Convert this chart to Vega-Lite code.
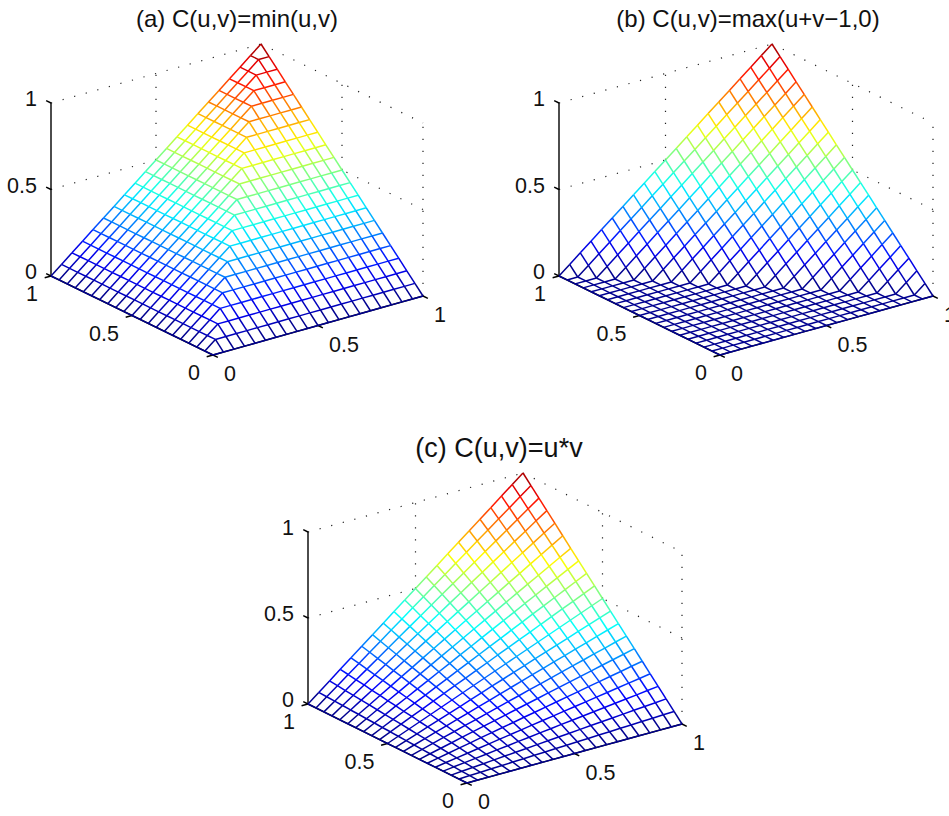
{"$schema":"https://vega.github.io/schema/vega-lite/v6.json","width":949,"height":816,"padding":0,"autosize":{"type":"none"},"background":"white","config":{"view":{"stroke":null}},
"params":[{"name":"P","value":{"a":{"x0":213,"xu":210,"xv":-162,"y0":355,"zs":173},"b":{"x0":720,"xu":213,"xv":-161,"y0":355,"zs":173},"c":{"x0":467,"xu":215,"xv":-159,"y0":783,"zs":172}}}],
"datasets":{
"frame":[{"k":"d","u":0,"v":1,"z":1,"u2":1,"v2":1,"z2":1},{"k":"d","u":1,"v":1,"z":1,"u2":1,"v2":0,"z2":1},{"k":"d","u":0,"v":1,"z":0.5,"u2":0.5,"v2":1,"z2":0.5},{"k":"d","u":1,"v":0,"z":0.5,"u2":1,"v2":0.5,"z2":0.5},{"k":"d","u":0.5,"v":1,"z":0.5,"u2":0.5,"v2":1,"z2":1},{"k":"d","u":1,"v":0.5,"z":0.5,"u2":1,"v2":0.5,"z2":1},{"k":"d","u":1,"v":0,"z":0,"u2":1,"v2":0,"z2":1},
{"k":"s","u":0,"v":1,"z":0,"u2":0,"v2":1,"z2":1},{"k":"s","u":0,"v":0,"z":0,"u2":1,"v2":0,"z2":0},{"k":"s","u":0,"v":0,"z":0,"u2":0,"v2":1,"z2":0},
{"k":"s","u":0,"v":1,"z":0,"u2":0,"v2":1.03,"z2":0},{"k":"s","u":0,"v":1,"z":0.5,"u2":0,"v2":1.03,"z2":0.5},{"k":"s","u":0,"v":1,"z":1,"u2":0,"v2":1.03,"z2":1},
{"k":"s","u":0,"v":0,"z":0,"u2":0,"v2":-0.03,"z2":0},{"k":"s","u":0.5,"v":0,"z":0,"u2":0.5,"v2":-0.03,"z2":0},{"k":"s","u":1,"v":0,"z":0,"u2":1,"v2":-0.03,"z2":0},
{"k":"s","u":0,"v":0,"z":0,"u2":-0.03,"v2":0,"z2":0},{"k":"s","u":0,"v":0.5,"z":0,"u2":-0.03,"v2":0.5,"z2":0},{"k":"s","u":0,"v":1,"z":0,"u2":-0.03,"v2":1,"z2":0}],
"labels":[{"ax":"z","t":"0","u":0,"v":1,"z":0},{"ax":"z","t":"0.5","u":0,"v":1,"z":0.5},{"ax":"z","t":"1","u":0,"v":1,"z":1},{"ax":"x","t":"0","u":0,"v":0,"z":0},{"ax":"x","t":"0.5","u":0.5,"v":0,"z":0},{"ax":"x","t":"1","u":1,"v":0,"z":0},{"ax":"y","t":"0","u":0,"v":0,"z":0},{"ax":"y","t":"0.5","u":0,"v":0.5,"z":0},{"ax":"y","t":"1","u":0,"v":1,"z":0}],
"titles":[{"p":"a","t":"(a) C(u,v)=min(u,v)","u":1,"v":1,"z":1},{"p":"b","t":"(b) C(u,v)=max(u+v−1,0)","u":1,"v":1,"z":1},{"p":"c","t":"(c) C(u,v)=u*v","u":1,"v":1,"z":1}],
"mesh":[
{"u":0,"v":0,"a":0,"b":0,"c":0},{"u":0,"v":0.05,"a":0,"b":0,"c":0},{"u":0,"v":0.1,"a":0,"b":0,"c":0},{"u":0,"v":0.15,"a":0,"b":0,"c":0},{"u":0,"v":0.2,"a":0,"b":0,"c":0},{"u":0,"v":0.25,"a":0,"b":0,"c":0},{"u":0,"v":0.3,"a":0,"b":0,"c":0},{"u":0,"v":0.35,"a":0,"b":0,"c":0},{"u":0,"v":0.4,"a":0,"b":0,"c":0},{"u":0,"v":0.45,"a":0,"b":0,"c":0},{"u":0,"v":0.5,"a":0,"b":0,"c":0},{"u":0,"v":0.55,"a":0,"b":0,"c":0},{"u":0,"v":0.6,"a":0,"b":0,"c":0},{"u":0,"v":0.65,"a":0,"b":0,"c":0},{"u":0,"v":0.7,"a":0,"b":0,"c":0},{"u":0,"v":0.75,"a":0,"b":0,"c":0},{"u":0,"v":0.8,"a":0,"b":0,"c":0},{"u":0,"v":0.85,"a":0,"b":0,"c":0},{"u":0,"v":0.9,"a":0,"b":0,"c":0},{"u":0,"v":0.95,"a":0,"b":0,"c":0},{"u":0,"v":1,"a":0,"b":0,"c":0},
{"u":0.05,"v":0,"a":0,"b":0,"c":0},{"u":0.05,"v":0.05,"a":0.05,"b":0,"c":0.003},{"u":0.05,"v":0.1,"a":0.05,"b":0,"c":0.005},{"u":0.05,"v":0.15,"a":0.05,"b":0,"c":0.008},{"u":0.05,"v":0.2,"a":0.05,"b":0,"c":0.01},{"u":0.05,"v":0.25,"a":0.05,"b":0,"c":0.013},{"u":0.05,"v":0.3,"a":0.05,"b":0,"c":0.015},{"u":0.05,"v":0.35,"a":0.05,"b":0,"c":0.018},{"u":0.05,"v":0.4,"a":0.05,"b":0,"c":0.02},{"u":0.05,"v":0.45,"a":0.05,"b":0,"c":0.023},{"u":0.05,"v":0.5,"a":0.05,"b":0,"c":0.025},{"u":0.05,"v":0.55,"a":0.05,"b":0,"c":0.028},{"u":0.05,"v":0.6,"a":0.05,"b":0,"c":0.03},{"u":0.05,"v":0.65,"a":0.05,"b":0,"c":0.033},{"u":0.05,"v":0.7,"a":0.05,"b":0,"c":0.035},{"u":0.05,"v":0.75,"a":0.05,"b":0,"c":0.038},{"u":0.05,"v":0.8,"a":0.05,"b":0,"c":0.04},{"u":0.05,"v":0.85,"a":0.05,"b":0,"c":0.043},{"u":0.05,"v":0.9,"a":0.05,"b":0,"c":0.045},{"u":0.05,"v":0.95,"a":0.05,"b":0,"c":0.048},{"u":0.05,"v":1,"a":0.05,"b":0.05,"c":0.05},
{"u":0.1,"v":0,"a":0,"b":0,"c":0},{"u":0.1,"v":0.05,"a":0.05,"b":0,"c":0.005},{"u":0.1,"v":0.1,"a":0.1,"b":0,"c":0.01},{"u":0.1,"v":0.15,"a":0.1,"b":0,"c":0.015},{"u":0.1,"v":0.2,"a":0.1,"b":0,"c":0.02},{"u":0.1,"v":0.25,"a":0.1,"b":0,"c":0.025},{"u":0.1,"v":0.3,"a":0.1,"b":0,"c":0.03},{"u":0.1,"v":0.35,"a":0.1,"b":0,"c":0.035},{"u":0.1,"v":0.4,"a":0.1,"b":0,"c":0.04},{"u":0.1,"v":0.45,"a":0.1,"b":0,"c":0.045},{"u":0.1,"v":0.5,"a":0.1,"b":0,"c":0.05},{"u":0.1,"v":0.55,"a":0.1,"b":0,"c":0.055},{"u":0.1,"v":0.6,"a":0.1,"b":0,"c":0.06},{"u":0.1,"v":0.65,"a":0.1,"b":0,"c":0.065},{"u":0.1,"v":0.7,"a":0.1,"b":0,"c":0.07},{"u":0.1,"v":0.75,"a":0.1,"b":0,"c":0.075},{"u":0.1,"v":0.8,"a":0.1,"b":0,"c":0.08},{"u":0.1,"v":0.85,"a":0.1,"b":0,"c":0.085},{"u":0.1,"v":0.9,"a":0.1,"b":0,"c":0.09},{"u":0.1,"v":0.95,"a":0.1,"b":0.05,"c":0.095},{"u":0.1,"v":1,"a":0.1,"b":0.1,"c":0.1},
{"u":0.15,"v":0,"a":0,"b":0,"c":0},{"u":0.15,"v":0.05,"a":0.05,"b":0,"c":0.008},{"u":0.15,"v":0.1,"a":0.1,"b":0,"c":0.015},{"u":0.15,"v":0.15,"a":0.15,"b":0,"c":0.023},{"u":0.15,"v":0.2,"a":0.15,"b":0,"c":0.03},{"u":0.15,"v":0.25,"a":0.15,"b":0,"c":0.038},{"u":0.15,"v":0.3,"a":0.15,"b":0,"c":0.045},{"u":0.15,"v":0.35,"a":0.15,"b":0,"c":0.053},{"u":0.15,"v":0.4,"a":0.15,"b":0,"c":0.06},{"u":0.15,"v":0.45,"a":0.15,"b":0,"c":0.068},{"u":0.15,"v":0.5,"a":0.15,"b":0,"c":0.075},{"u":0.15,"v":0.55,"a":0.15,"b":0,"c":0.083},{"u":0.15,"v":0.6,"a":0.15,"b":0,"c":0.09},{"u":0.15,"v":0.65,"a":0.15,"b":0,"c":0.098},{"u":0.15,"v":0.7,"a":0.15,"b":0,"c":0.105},{"u":0.15,"v":0.75,"a":0.15,"b":0,"c":0.113},{"u":0.15,"v":0.8,"a":0.15,"b":0,"c":0.12},{"u":0.15,"v":0.85,"a":0.15,"b":0,"c":0.128},{"u":0.15,"v":0.9,"a":0.15,"b":0.05,"c":0.135},{"u":0.15,"v":0.95,"a":0.15,"b":0.1,"c":0.143},{"u":0.15,"v":1,"a":0.15,"b":0.15,"c":0.15},
{"u":0.2,"v":0,"a":0,"b":0,"c":0},{"u":0.2,"v":0.05,"a":0.05,"b":0,"c":0.01},{"u":0.2,"v":0.1,"a":0.1,"b":0,"c":0.02},{"u":0.2,"v":0.15,"a":0.15,"b":0,"c":0.03},{"u":0.2,"v":0.2,"a":0.2,"b":0,"c":0.04},{"u":0.2,"v":0.25,"a":0.2,"b":0,"c":0.05},{"u":0.2,"v":0.3,"a":0.2,"b":0,"c":0.06},{"u":0.2,"v":0.35,"a":0.2,"b":0,"c":0.07},{"u":0.2,"v":0.4,"a":0.2,"b":0,"c":0.08},{"u":0.2,"v":0.45,"a":0.2,"b":0,"c":0.09},{"u":0.2,"v":0.5,"a":0.2,"b":0,"c":0.1},{"u":0.2,"v":0.55,"a":0.2,"b":0,"c":0.11},{"u":0.2,"v":0.6,"a":0.2,"b":0,"c":0.12},{"u":0.2,"v":0.65,"a":0.2,"b":0,"c":0.13},{"u":0.2,"v":0.7,"a":0.2,"b":0,"c":0.14},{"u":0.2,"v":0.75,"a":0.2,"b":0,"c":0.15},{"u":0.2,"v":0.8,"a":0.2,"b":0,"c":0.16},{"u":0.2,"v":0.85,"a":0.2,"b":0.05,"c":0.17},{"u":0.2,"v":0.9,"a":0.2,"b":0.1,"c":0.18},{"u":0.2,"v":0.95,"a":0.2,"b":0.15,"c":0.19},{"u":0.2,"v":1,"a":0.2,"b":0.2,"c":0.2},
{"u":0.25,"v":0,"a":0,"b":0,"c":0},{"u":0.25,"v":0.05,"a":0.05,"b":0,"c":0.013},{"u":0.25,"v":0.1,"a":0.1,"b":0,"c":0.025},{"u":0.25,"v":0.15,"a":0.15,"b":0,"c":0.038},{"u":0.25,"v":0.2,"a":0.2,"b":0,"c":0.05},{"u":0.25,"v":0.25,"a":0.25,"b":0,"c":0.063},{"u":0.25,"v":0.3,"a":0.25,"b":0,"c":0.075},{"u":0.25,"v":0.35,"a":0.25,"b":0,"c":0.088},{"u":0.25,"v":0.4,"a":0.25,"b":0,"c":0.1},{"u":0.25,"v":0.45,"a":0.25,"b":0,"c":0.113},{"u":0.25,"v":0.5,"a":0.25,"b":0,"c":0.125},{"u":0.25,"v":0.55,"a":0.25,"b":0,"c":0.138},{"u":0.25,"v":0.6,"a":0.25,"b":0,"c":0.15},{"u":0.25,"v":0.65,"a":0.25,"b":0,"c":0.163},{"u":0.25,"v":0.7,"a":0.25,"b":0,"c":0.175},{"u":0.25,"v":0.75,"a":0.25,"b":0,"c":0.188},{"u":0.25,"v":0.8,"a":0.25,"b":0.05,"c":0.2},{"u":0.25,"v":0.85,"a":0.25,"b":0.1,"c":0.213},{"u":0.25,"v":0.9,"a":0.25,"b":0.15,"c":0.225},{"u":0.25,"v":0.95,"a":0.25,"b":0.2,"c":0.238},{"u":0.25,"v":1,"a":0.25,"b":0.25,"c":0.25},
{"u":0.3,"v":0,"a":0,"b":0,"c":0},{"u":0.3,"v":0.05,"a":0.05,"b":0,"c":0.015},{"u":0.3,"v":0.1,"a":0.1,"b":0,"c":0.03},{"u":0.3,"v":0.15,"a":0.15,"b":0,"c":0.045},{"u":0.3,"v":0.2,"a":0.2,"b":0,"c":0.06},{"u":0.3,"v":0.25,"a":0.25,"b":0,"c":0.075},{"u":0.3,"v":0.3,"a":0.3,"b":0,"c":0.09},{"u":0.3,"v":0.35,"a":0.3,"b":0,"c":0.105},{"u":0.3,"v":0.4,"a":0.3,"b":0,"c":0.12},{"u":0.3,"v":0.45,"a":0.3,"b":0,"c":0.135},{"u":0.3,"v":0.5,"a":0.3,"b":0,"c":0.15},{"u":0.3,"v":0.55,"a":0.3,"b":0,"c":0.165},{"u":0.3,"v":0.6,"a":0.3,"b":0,"c":0.18},{"u":0.3,"v":0.65,"a":0.3,"b":0,"c":0.195},{"u":0.3,"v":0.7,"a":0.3,"b":0,"c":0.21},{"u":0.3,"v":0.75,"a":0.3,"b":0.05,"c":0.225},{"u":0.3,"v":0.8,"a":0.3,"b":0.1,"c":0.24},{"u":0.3,"v":0.85,"a":0.3,"b":0.15,"c":0.255},{"u":0.3,"v":0.9,"a":0.3,"b":0.2,"c":0.27},{"u":0.3,"v":0.95,"a":0.3,"b":0.25,"c":0.285},{"u":0.3,"v":1,"a":0.3,"b":0.3,"c":0.3},
{"u":0.35,"v":0,"a":0,"b":0,"c":0},{"u":0.35,"v":0.05,"a":0.05,"b":0,"c":0.018},{"u":0.35,"v":0.1,"a":0.1,"b":0,"c":0.035},{"u":0.35,"v":0.15,"a":0.15,"b":0,"c":0.053},{"u":0.35,"v":0.2,"a":0.2,"b":0,"c":0.07},{"u":0.35,"v":0.25,"a":0.25,"b":0,"c":0.088},{"u":0.35,"v":0.3,"a":0.3,"b":0,"c":0.105},{"u":0.35,"v":0.35,"a":0.35,"b":0,"c":0.123},{"u":0.35,"v":0.4,"a":0.35,"b":0,"c":0.14},{"u":0.35,"v":0.45,"a":0.35,"b":0,"c":0.158},{"u":0.35,"v":0.5,"a":0.35,"b":0,"c":0.175},{"u":0.35,"v":0.55,"a":0.35,"b":0,"c":0.193},{"u":0.35,"v":0.6,"a":0.35,"b":0,"c":0.21},{"u":0.35,"v":0.65,"a":0.35,"b":0,"c":0.228},{"u":0.35,"v":0.7,"a":0.35,"b":0.05,"c":0.245},{"u":0.35,"v":0.75,"a":0.35,"b":0.1,"c":0.263},{"u":0.35,"v":0.8,"a":0.35,"b":0.15,"c":0.28},{"u":0.35,"v":0.85,"a":0.35,"b":0.2,"c":0.298},{"u":0.35,"v":0.9,"a":0.35,"b":0.25,"c":0.315},{"u":0.35,"v":0.95,"a":0.35,"b":0.3,"c":0.333},{"u":0.35,"v":1,"a":0.35,"b":0.35,"c":0.35},
{"u":0.4,"v":0,"a":0,"b":0,"c":0},{"u":0.4,"v":0.05,"a":0.05,"b":0,"c":0.02},{"u":0.4,"v":0.1,"a":0.1,"b":0,"c":0.04},{"u":0.4,"v":0.15,"a":0.15,"b":0,"c":0.06},{"u":0.4,"v":0.2,"a":0.2,"b":0,"c":0.08},{"u":0.4,"v":0.25,"a":0.25,"b":0,"c":0.1},{"u":0.4,"v":0.3,"a":0.3,"b":0,"c":0.12},{"u":0.4,"v":0.35,"a":0.35,"b":0,"c":0.14},{"u":0.4,"v":0.4,"a":0.4,"b":0,"c":0.16},{"u":0.4,"v":0.45,"a":0.4,"b":0,"c":0.18},{"u":0.4,"v":0.5,"a":0.4,"b":0,"c":0.2},{"u":0.4,"v":0.55,"a":0.4,"b":0,"c":0.22},{"u":0.4,"v":0.6,"a":0.4,"b":0,"c":0.24},{"u":0.4,"v":0.65,"a":0.4,"b":0.05,"c":0.26},{"u":0.4,"v":0.7,"a":0.4,"b":0.1,"c":0.28},{"u":0.4,"v":0.75,"a":0.4,"b":0.15,"c":0.3},{"u":0.4,"v":0.8,"a":0.4,"b":0.2,"c":0.32},{"u":0.4,"v":0.85,"a":0.4,"b":0.25,"c":0.34},{"u":0.4,"v":0.9,"a":0.4,"b":0.3,"c":0.36},{"u":0.4,"v":0.95,"a":0.4,"b":0.35,"c":0.38},{"u":0.4,"v":1,"a":0.4,"b":0.4,"c":0.4},
{"u":0.45,"v":0,"a":0,"b":0,"c":0},{"u":0.45,"v":0.05,"a":0.05,"b":0,"c":0.023},{"u":0.45,"v":0.1,"a":0.1,"b":0,"c":0.045},{"u":0.45,"v":0.15,"a":0.15,"b":0,"c":0.068},{"u":0.45,"v":0.2,"a":0.2,"b":0,"c":0.09},{"u":0.45,"v":0.25,"a":0.25,"b":0,"c":0.113},{"u":0.45,"v":0.3,"a":0.3,"b":0,"c":0.135},{"u":0.45,"v":0.35,"a":0.35,"b":0,"c":0.158},{"u":0.45,"v":0.4,"a":0.4,"b":0,"c":0.18},{"u":0.45,"v":0.45,"a":0.45,"b":0,"c":0.203},{"u":0.45,"v":0.5,"a":0.45,"b":0,"c":0.225},{"u":0.45,"v":0.55,"a":0.45,"b":0,"c":0.248},{"u":0.45,"v":0.6,"a":0.45,"b":0.05,"c":0.27},{"u":0.45,"v":0.65,"a":0.45,"b":0.1,"c":0.293},{"u":0.45,"v":0.7,"a":0.45,"b":0.15,"c":0.315},{"u":0.45,"v":0.75,"a":0.45,"b":0.2,"c":0.338},{"u":0.45,"v":0.8,"a":0.45,"b":0.25,"c":0.36},{"u":0.45,"v":0.85,"a":0.45,"b":0.3,"c":0.383},{"u":0.45,"v":0.9,"a":0.45,"b":0.35,"c":0.405},{"u":0.45,"v":0.95,"a":0.45,"b":0.4,"c":0.428},{"u":0.45,"v":1,"a":0.45,"b":0.45,"c":0.45},
{"u":0.5,"v":0,"a":0,"b":0,"c":0},{"u":0.5,"v":0.05,"a":0.05,"b":0,"c":0.025},{"u":0.5,"v":0.1,"a":0.1,"b":0,"c":0.05},{"u":0.5,"v":0.15,"a":0.15,"b":0,"c":0.075},{"u":0.5,"v":0.2,"a":0.2,"b":0,"c":0.1},{"u":0.5,"v":0.25,"a":0.25,"b":0,"c":0.125},{"u":0.5,"v":0.3,"a":0.3,"b":0,"c":0.15},{"u":0.5,"v":0.35,"a":0.35,"b":0,"c":0.175},{"u":0.5,"v":0.4,"a":0.4,"b":0,"c":0.2},{"u":0.5,"v":0.45,"a":0.45,"b":0,"c":0.225},{"u":0.5,"v":0.5,"a":0.5,"b":0,"c":0.25},{"u":0.5,"v":0.55,"a":0.5,"b":0.05,"c":0.275},{"u":0.5,"v":0.6,"a":0.5,"b":0.1,"c":0.3},{"u":0.5,"v":0.65,"a":0.5,"b":0.15,"c":0.325},{"u":0.5,"v":0.7,"a":0.5,"b":0.2,"c":0.35},{"u":0.5,"v":0.75,"a":0.5,"b":0.25,"c":0.375},{"u":0.5,"v":0.8,"a":0.5,"b":0.3,"c":0.4},{"u":0.5,"v":0.85,"a":0.5,"b":0.35,"c":0.425},{"u":0.5,"v":0.9,"a":0.5,"b":0.4,"c":0.45},{"u":0.5,"v":0.95,"a":0.5,"b":0.45,"c":0.475},{"u":0.5,"v":1,"a":0.5,"b":0.5,"c":0.5},
{"u":0.55,"v":0,"a":0,"b":0,"c":0},{"u":0.55,"v":0.05,"a":0.05,"b":0,"c":0.028},{"u":0.55,"v":0.1,"a":0.1,"b":0,"c":0.055},{"u":0.55,"v":0.15,"a":0.15,"b":0,"c":0.083},{"u":0.55,"v":0.2,"a":0.2,"b":0,"c":0.11},{"u":0.55,"v":0.25,"a":0.25,"b":0,"c":0.138},{"u":0.55,"v":0.3,"a":0.3,"b":0,"c":0.165},{"u":0.55,"v":0.35,"a":0.35,"b":0,"c":0.193},{"u":0.55,"v":0.4,"a":0.4,"b":0,"c":0.22},{"u":0.55,"v":0.45,"a":0.45,"b":0,"c":0.248},{"u":0.55,"v":0.5,"a":0.5,"b":0.05,"c":0.275},{"u":0.55,"v":0.55,"a":0.55,"b":0.1,"c":0.303},{"u":0.55,"v":0.6,"a":0.55,"b":0.15,"c":0.33},{"u":0.55,"v":0.65,"a":0.55,"b":0.2,"c":0.358},{"u":0.55,"v":0.7,"a":0.55,"b":0.25,"c":0.385},{"u":0.55,"v":0.75,"a":0.55,"b":0.3,"c":0.413},{"u":0.55,"v":0.8,"a":0.55,"b":0.35,"c":0.44},{"u":0.55,"v":0.85,"a":0.55,"b":0.4,"c":0.468},{"u":0.55,"v":0.9,"a":0.55,"b":0.45,"c":0.495},{"u":0.55,"v":0.95,"a":0.55,"b":0.5,"c":0.523},{"u":0.55,"v":1,"a":0.55,"b":0.55,"c":0.55},
{"u":0.6,"v":0,"a":0,"b":0,"c":0},{"u":0.6,"v":0.05,"a":0.05,"b":0,"c":0.03},{"u":0.6,"v":0.1,"a":0.1,"b":0,"c":0.06},{"u":0.6,"v":0.15,"a":0.15,"b":0,"c":0.09},{"u":0.6,"v":0.2,"a":0.2,"b":0,"c":0.12},{"u":0.6,"v":0.25,"a":0.25,"b":0,"c":0.15},{"u":0.6,"v":0.3,"a":0.3,"b":0,"c":0.18},{"u":0.6,"v":0.35,"a":0.35,"b":0,"c":0.21},{"u":0.6,"v":0.4,"a":0.4,"b":0,"c":0.24},{"u":0.6,"v":0.45,"a":0.45,"b":0.05,"c":0.27},{"u":0.6,"v":0.5,"a":0.5,"b":0.1,"c":0.3},{"u":0.6,"v":0.55,"a":0.55,"b":0.15,"c":0.33},{"u":0.6,"v":0.6,"a":0.6,"b":0.2,"c":0.36},{"u":0.6,"v":0.65,"a":0.6,"b":0.25,"c":0.39},{"u":0.6,"v":0.7,"a":0.6,"b":0.3,"c":0.42},{"u":0.6,"v":0.75,"a":0.6,"b":0.35,"c":0.45},{"u":0.6,"v":0.8,"a":0.6,"b":0.4,"c":0.48},{"u":0.6,"v":0.85,"a":0.6,"b":0.45,"c":0.51},{"u":0.6,"v":0.9,"a":0.6,"b":0.5,"c":0.54},{"u":0.6,"v":0.95,"a":0.6,"b":0.55,"c":0.57},{"u":0.6,"v":1,"a":0.6,"b":0.6,"c":0.6},
{"u":0.65,"v":0,"a":0,"b":0,"c":0},{"u":0.65,"v":0.05,"a":0.05,"b":0,"c":0.033},{"u":0.65,"v":0.1,"a":0.1,"b":0,"c":0.065},{"u":0.65,"v":0.15,"a":0.15,"b":0,"c":0.098},{"u":0.65,"v":0.2,"a":0.2,"b":0,"c":0.13},{"u":0.65,"v":0.25,"a":0.25,"b":0,"c":0.163},{"u":0.65,"v":0.3,"a":0.3,"b":0,"c":0.195},{"u":0.65,"v":0.35,"a":0.35,"b":0,"c":0.228},{"u":0.65,"v":0.4,"a":0.4,"b":0.05,"c":0.26},{"u":0.65,"v":0.45,"a":0.45,"b":0.1,"c":0.293},{"u":0.65,"v":0.5,"a":0.5,"b":0.15,"c":0.325},{"u":0.65,"v":0.55,"a":0.55,"b":0.2,"c":0.358},{"u":0.65,"v":0.6,"a":0.6,"b":0.25,"c":0.39},{"u":0.65,"v":0.65,"a":0.65,"b":0.3,"c":0.423},{"u":0.65,"v":0.7,"a":0.65,"b":0.35,"c":0.455},{"u":0.65,"v":0.75,"a":0.65,"b":0.4,"c":0.488},{"u":0.65,"v":0.8,"a":0.65,"b":0.45,"c":0.52},{"u":0.65,"v":0.85,"a":0.65,"b":0.5,"c":0.553},{"u":0.65,"v":0.9,"a":0.65,"b":0.55,"c":0.585},{"u":0.65,"v":0.95,"a":0.65,"b":0.6,"c":0.618},{"u":0.65,"v":1,"a":0.65,"b":0.65,"c":0.65},
{"u":0.7,"v":0,"a":0,"b":0,"c":0},{"u":0.7,"v":0.05,"a":0.05,"b":0,"c":0.035},{"u":0.7,"v":0.1,"a":0.1,"b":0,"c":0.07},{"u":0.7,"v":0.15,"a":0.15,"b":0,"c":0.105},{"u":0.7,"v":0.2,"a":0.2,"b":0,"c":0.14},{"u":0.7,"v":0.25,"a":0.25,"b":0,"c":0.175},{"u":0.7,"v":0.3,"a":0.3,"b":0,"c":0.21},{"u":0.7,"v":0.35,"a":0.35,"b":0.05,"c":0.245},{"u":0.7,"v":0.4,"a":0.4,"b":0.1,"c":0.28},{"u":0.7,"v":0.45,"a":0.45,"b":0.15,"c":0.315},{"u":0.7,"v":0.5,"a":0.5,"b":0.2,"c":0.35},{"u":0.7,"v":0.55,"a":0.55,"b":0.25,"c":0.385},{"u":0.7,"v":0.6,"a":0.6,"b":0.3,"c":0.42},{"u":0.7,"v":0.65,"a":0.65,"b":0.35,"c":0.455},{"u":0.7,"v":0.7,"a":0.7,"b":0.4,"c":0.49},{"u":0.7,"v":0.75,"a":0.7,"b":0.45,"c":0.525},{"u":0.7,"v":0.8,"a":0.7,"b":0.5,"c":0.56},{"u":0.7,"v":0.85,"a":0.7,"b":0.55,"c":0.595},{"u":0.7,"v":0.9,"a":0.7,"b":0.6,"c":0.63},{"u":0.7,"v":0.95,"a":0.7,"b":0.65,"c":0.665},{"u":0.7,"v":1,"a":0.7,"b":0.7,"c":0.7},
{"u":0.75,"v":0,"a":0,"b":0,"c":0},{"u":0.75,"v":0.05,"a":0.05,"b":0,"c":0.038},{"u":0.75,"v":0.1,"a":0.1,"b":0,"c":0.075},{"u":0.75,"v":0.15,"a":0.15,"b":0,"c":0.113},{"u":0.75,"v":0.2,"a":0.2,"b":0,"c":0.15},{"u":0.75,"v":0.25,"a":0.25,"b":0,"c":0.188},{"u":0.75,"v":0.3,"a":0.3,"b":0.05,"c":0.225},{"u":0.75,"v":0.35,"a":0.35,"b":0.1,"c":0.263},{"u":0.75,"v":0.4,"a":0.4,"b":0.15,"c":0.3},{"u":0.75,"v":0.45,"a":0.45,"b":0.2,"c":0.338},{"u":0.75,"v":0.5,"a":0.5,"b":0.25,"c":0.375},{"u":0.75,"v":0.55,"a":0.55,"b":0.3,"c":0.413},{"u":0.75,"v":0.6,"a":0.6,"b":0.35,"c":0.45},{"u":0.75,"v":0.65,"a":0.65,"b":0.4,"c":0.488},{"u":0.75,"v":0.7,"a":0.7,"b":0.45,"c":0.525},{"u":0.75,"v":0.75,"a":0.75,"b":0.5,"c":0.563},{"u":0.75,"v":0.8,"a":0.75,"b":0.55,"c":0.6},{"u":0.75,"v":0.85,"a":0.75,"b":0.6,"c":0.638},{"u":0.75,"v":0.9,"a":0.75,"b":0.65,"c":0.675},{"u":0.75,"v":0.95,"a":0.75,"b":0.7,"c":0.713},{"u":0.75,"v":1,"a":0.75,"b":0.75,"c":0.75},
{"u":0.8,"v":0,"a":0,"b":0,"c":0},{"u":0.8,"v":0.05,"a":0.05,"b":0,"c":0.04},{"u":0.8,"v":0.1,"a":0.1,"b":0,"c":0.08},{"u":0.8,"v":0.15,"a":0.15,"b":0,"c":0.12},{"u":0.8,"v":0.2,"a":0.2,"b":0,"c":0.16},{"u":0.8,"v":0.25,"a":0.25,"b":0.05,"c":0.2},{"u":0.8,"v":0.3,"a":0.3,"b":0.1,"c":0.24},{"u":0.8,"v":0.35,"a":0.35,"b":0.15,"c":0.28},{"u":0.8,"v":0.4,"a":0.4,"b":0.2,"c":0.32},{"u":0.8,"v":0.45,"a":0.45,"b":0.25,"c":0.36},{"u":0.8,"v":0.5,"a":0.5,"b":0.3,"c":0.4},{"u":0.8,"v":0.55,"a":0.55,"b":0.35,"c":0.44},{"u":0.8,"v":0.6,"a":0.6,"b":0.4,"c":0.48},{"u":0.8,"v":0.65,"a":0.65,"b":0.45,"c":0.52},{"u":0.8,"v":0.7,"a":0.7,"b":0.5,"c":0.56},{"u":0.8,"v":0.75,"a":0.75,"b":0.55,"c":0.6},{"u":0.8,"v":0.8,"a":0.8,"b":0.6,"c":0.64},{"u":0.8,"v":0.85,"a":0.8,"b":0.65,"c":0.68},{"u":0.8,"v":0.9,"a":0.8,"b":0.7,"c":0.72},{"u":0.8,"v":0.95,"a":0.8,"b":0.75,"c":0.76},{"u":0.8,"v":1,"a":0.8,"b":0.8,"c":0.8},
{"u":0.85,"v":0,"a":0,"b":0,"c":0},{"u":0.85,"v":0.05,"a":0.05,"b":0,"c":0.043},{"u":0.85,"v":0.1,"a":0.1,"b":0,"c":0.085},{"u":0.85,"v":0.15,"a":0.15,"b":0,"c":0.128},{"u":0.85,"v":0.2,"a":0.2,"b":0.05,"c":0.17},{"u":0.85,"v":0.25,"a":0.25,"b":0.1,"c":0.213},{"u":0.85,"v":0.3,"a":0.3,"b":0.15,"c":0.255},{"u":0.85,"v":0.35,"a":0.35,"b":0.2,"c":0.298},{"u":0.85,"v":0.4,"a":0.4,"b":0.25,"c":0.34},{"u":0.85,"v":0.45,"a":0.45,"b":0.3,"c":0.383},{"u":0.85,"v":0.5,"a":0.5,"b":0.35,"c":0.425},{"u":0.85,"v":0.55,"a":0.55,"b":0.4,"c":0.468},{"u":0.85,"v":0.6,"a":0.6,"b":0.45,"c":0.51},{"u":0.85,"v":0.65,"a":0.65,"b":0.5,"c":0.553},{"u":0.85,"v":0.7,"a":0.7,"b":0.55,"c":0.595},{"u":0.85,"v":0.75,"a":0.75,"b":0.6,"c":0.638},{"u":0.85,"v":0.8,"a":0.8,"b":0.65,"c":0.68},{"u":0.85,"v":0.85,"a":0.85,"b":0.7,"c":0.723},{"u":0.85,"v":0.9,"a":0.85,"b":0.75,"c":0.765},{"u":0.85,"v":0.95,"a":0.85,"b":0.8,"c":0.808},{"u":0.85,"v":1,"a":0.85,"b":0.85,"c":0.85},
{"u":0.9,"v":0,"a":0,"b":0,"c":0},{"u":0.9,"v":0.05,"a":0.05,"b":0,"c":0.045},{"u":0.9,"v":0.1,"a":0.1,"b":0,"c":0.09},{"u":0.9,"v":0.15,"a":0.15,"b":0.05,"c":0.135},{"u":0.9,"v":0.2,"a":0.2,"b":0.1,"c":0.18},{"u":0.9,"v":0.25,"a":0.25,"b":0.15,"c":0.225},{"u":0.9,"v":0.3,"a":0.3,"b":0.2,"c":0.27},{"u":0.9,"v":0.35,"a":0.35,"b":0.25,"c":0.315},{"u":0.9,"v":0.4,"a":0.4,"b":0.3,"c":0.36},{"u":0.9,"v":0.45,"a":0.45,"b":0.35,"c":0.405},{"u":0.9,"v":0.5,"a":0.5,"b":0.4,"c":0.45},{"u":0.9,"v":0.55,"a":0.55,"b":0.45,"c":0.495},{"u":0.9,"v":0.6,"a":0.6,"b":0.5,"c":0.54},{"u":0.9,"v":0.65,"a":0.65,"b":0.55,"c":0.585},{"u":0.9,"v":0.7,"a":0.7,"b":0.6,"c":0.63},{"u":0.9,"v":0.75,"a":0.75,"b":0.65,"c":0.675},{"u":0.9,"v":0.8,"a":0.8,"b":0.7,"c":0.72},{"u":0.9,"v":0.85,"a":0.85,"b":0.75,"c":0.765},{"u":0.9,"v":0.9,"a":0.9,"b":0.8,"c":0.81},{"u":0.9,"v":0.95,"a":0.9,"b":0.85,"c":0.855},{"u":0.9,"v":1,"a":0.9,"b":0.9,"c":0.9},
{"u":0.95,"v":0,"a":0,"b":0,"c":0},{"u":0.95,"v":0.05,"a":0.05,"b":0,"c":0.048},{"u":0.95,"v":0.1,"a":0.1,"b":0.05,"c":0.095},{"u":0.95,"v":0.15,"a":0.15,"b":0.1,"c":0.143},{"u":0.95,"v":0.2,"a":0.2,"b":0.15,"c":0.19},{"u":0.95,"v":0.25,"a":0.25,"b":0.2,"c":0.238},{"u":0.95,"v":0.3,"a":0.3,"b":0.25,"c":0.285},{"u":0.95,"v":0.35,"a":0.35,"b":0.3,"c":0.333},{"u":0.95,"v":0.4,"a":0.4,"b":0.35,"c":0.38},{"u":0.95,"v":0.45,"a":0.45,"b":0.4,"c":0.428},{"u":0.95,"v":0.5,"a":0.5,"b":0.45,"c":0.475},{"u":0.95,"v":0.55,"a":0.55,"b":0.5,"c":0.523},{"u":0.95,"v":0.6,"a":0.6,"b":0.55,"c":0.57},{"u":0.95,"v":0.65,"a":0.65,"b":0.6,"c":0.618},{"u":0.95,"v":0.7,"a":0.7,"b":0.65,"c":0.665},{"u":0.95,"v":0.75,"a":0.75,"b":0.7,"c":0.713},{"u":0.95,"v":0.8,"a":0.8,"b":0.75,"c":0.76},{"u":0.95,"v":0.85,"a":0.85,"b":0.8,"c":0.808},{"u":0.95,"v":0.9,"a":0.9,"b":0.85,"c":0.855},{"u":0.95,"v":0.95,"a":0.95,"b":0.9,"c":0.903},{"u":0.95,"v":1,"a":0.95,"b":0.95,"c":0.95},
{"u":1,"v":0,"a":0,"b":0,"c":0},{"u":1,"v":0.05,"a":0.05,"b":0.05,"c":0.05},{"u":1,"v":0.1,"a":0.1,"b":0.1,"c":0.1},{"u":1,"v":0.15,"a":0.15,"b":0.15,"c":0.15},{"u":1,"v":0.2,"a":0.2,"b":0.2,"c":0.2},{"u":1,"v":0.25,"a":0.25,"b":0.25,"c":0.25},{"u":1,"v":0.3,"a":0.3,"b":0.3,"c":0.3},{"u":1,"v":0.35,"a":0.35,"b":0.35,"c":0.35},{"u":1,"v":0.4,"a":0.4,"b":0.4,"c":0.4},{"u":1,"v":0.45,"a":0.45,"b":0.45,"c":0.45},{"u":1,"v":0.5,"a":0.5,"b":0.5,"c":0.5},{"u":1,"v":0.55,"a":0.55,"b":0.55,"c":0.55},{"u":1,"v":0.6,"a":0.6,"b":0.6,"c":0.6},{"u":1,"v":0.65,"a":0.65,"b":0.65,"c":0.65},{"u":1,"v":0.7,"a":0.7,"b":0.7,"c":0.7},{"u":1,"v":0.75,"a":0.75,"b":0.75,"c":0.75},{"u":1,"v":0.8,"a":0.8,"b":0.8,"c":0.8},{"u":1,"v":0.85,"a":0.85,"b":0.85,"c":0.85},{"u":1,"v":0.9,"a":0.9,"b":0.9,"c":0.9},{"u":1,"v":0.95,"a":0.95,"b":0.95,"c":0.95},{"u":1,"v":1,"a":1,"b":1,"c":1}
]},
"encoding":{"x":{"field":"x","type":"quantitative","axis":null,"scale":{"domain":[0,949],"nice":false,"zero":false}},"y":{"field":"y","type":"quantitative","axis":null,"scale":{"domain":[0,816],"reverse":true,"nice":false,"zero":false}}},
"layer":[
{"data":{"name":"frame"},"transform":[{"filter":"datum.k=='d'"},{"calculate":"['a','b','c']","as":"p"},{"flatten":["p"]},{"calculate":"P[datum.p].x0+P[datum.p].xu*datum.u+P[datum.p].xv*datum.v","as":"x"},{"calculate":"P[datum.p].y0-59*datum.u-79*datum.v-P[datum.p].zs*datum.z","as":"y"},{"calculate":"P[datum.p].x0+P[datum.p].xu*datum.u2+P[datum.p].xv*datum.v2","as":"xe"},{"calculate":"P[datum.p].y0-59*datum.u2-79*datum.v2-P[datum.p].zs*datum.z2","as":"ye"}],"mark":{"type":"rule","stroke":"#222222","strokeWidth":1.2,"strokeDash":[1.2,10.8]},"encoding":{"x2":{"field":"xe"},"y2":{"field":"ye"}}},
{"data":{"name":"frame"},"transform":[{"filter":"datum.k=='s'"},{"calculate":"['a','b','c']","as":"p"},{"flatten":["p"]},{"calculate":"P[datum.p].x0+P[datum.p].xu*datum.u+P[datum.p].xv*datum.v","as":"x"},{"calculate":"P[datum.p].y0-59*datum.u-79*datum.v-P[datum.p].zs*datum.z","as":"y"},{"calculate":"P[datum.p].x0+P[datum.p].xu*datum.u2+P[datum.p].xv*datum.v2","as":"xe"},{"calculate":"P[datum.p].y0-59*datum.u2-79*datum.v2-P[datum.p].zs*datum.z2","as":"ye"}],"mark":{"type":"rule","stroke":"#000000","strokeWidth":1.4},"encoding":{"x2":{"field":"xe"},"y2":{"field":"ye"}}},
{"data":{"name":"mesh"},"transform":[{"fold":["a","b","c"],"as":["p","z"]},{"window":[{"op":"lead","field":"u","as":"u2"},{"op":"lead","field":"z","as":"z2"}],"groupby":["p","v"],"sort":[{"field":"u"}]},{"filter":"isValid(datum.u2)"},{"calculate":"P[datum.p].x0+P[datum.p].xu*datum.u+P[datum.p].xv*datum.v","as":"x"},{"calculate":"P[datum.p].y0-59*datum.u-79*datum.v-P[datum.p].zs*datum.z","as":"y"},{"calculate":"P[datum.p].x0+P[datum.p].xu*datum.u2+P[datum.p].xv*datum.v","as":"xe"},{"calculate":"P[datum.p].y0-59*datum.u2-79*datum.v-P[datum.p].zs*datum.z2","as":"ye"}],"mark":{"type":"rule","strokeWidth":1.5},"encoding":{"x2":{"field":"xe"},"y2":{"field":"ye"},"color":{"field":"z","type":"quantitative","legend":null,"scale":{"domain":[0,0.125,0.375,0.625,0.875,1],"range":["#000090","#0000ff","#00ffff","#ffff00","#ff0000","#800000"],"interpolate":"rgb"}}}},
{"data":{"name":"mesh"},"transform":[{"fold":["a","b","c"],"as":["p","z"]},{"window":[{"op":"lead","field":"v","as":"v2"},{"op":"lead","field":"z","as":"z2"}],"groupby":["p","u"],"sort":[{"field":"v"}]},{"filter":"isValid(datum.v2)"},{"calculate":"P[datum.p].x0+P[datum.p].xu*datum.u+P[datum.p].xv*datum.v","as":"x"},{"calculate":"P[datum.p].y0-59*datum.u-79*datum.v-P[datum.p].zs*datum.z","as":"y"},{"calculate":"P[datum.p].x0+P[datum.p].xu*datum.u+P[datum.p].xv*datum.v2","as":"xe"},{"calculate":"P[datum.p].y0-59*datum.u-79*datum.v2-P[datum.p].zs*datum.z2","as":"ye"}],"mark":{"type":"rule","strokeWidth":1.5},"encoding":{"x2":{"field":"xe"},"y2":{"field":"ye"},"color":{"field":"z","type":"quantitative","legend":null,"scale":{"domain":[0,0.125,0.375,0.625,0.875,1],"range":["#000090","#0000ff","#00ffff","#ffff00","#ff0000","#800000"],"interpolate":"rgb"}}}},
{"data":{"name":"labels"},"transform":[{"filter":"datum.ax=='z'"},{"calculate":"['a','b','c']","as":"p"},{"flatten":["p"]},{"calculate":"P[datum.p].x0+P[datum.p].xu*datum.u+P[datum.p].xv*datum.v","as":"x"},{"calculate":"P[datum.p].y0-59*datum.u-79*datum.v-P[datum.p].zs*datum.z","as":"y"}],"mark":{"type":"text","font":"Liberation Sans","fontSize":21.5,"color":"#111111","align":"right","baseline":"middle","dx":-14,"dy":-3},"encoding":{"text":{"field":"t"}}},
{"data":{"name":"labels"},"transform":[{"filter":"datum.ax=='x'"},{"calculate":"['a','b','c']","as":"p"},{"flatten":["p"]},{"calculate":"P[datum.p].x0+P[datum.p].xu*datum.u+P[datum.p].xv*datum.v","as":"x"},{"calculate":"P[datum.p].y0-59*datum.u-79*datum.v-P[datum.p].zs*datum.z","as":"y"}],"mark":{"type":"text","font":"Liberation Sans","fontSize":21.5,"color":"#111111","align":"left","baseline":"middle","dx":11,"dy":20},"encoding":{"text":{"field":"t"}}},
{"data":{"name":"labels"},"transform":[{"filter":"datum.ax=='y'"},{"calculate":"['a','b','c']","as":"p"},{"flatten":["p"]},{"calculate":"P[datum.p].x0+P[datum.p].xu*datum.u+P[datum.p].xv*datum.v","as":"x"},{"calculate":"P[datum.p].y0-59*datum.u-79*datum.v-P[datum.p].zs*datum.z","as":"y"}],"mark":{"type":"text","font":"Liberation Sans","fontSize":21.5,"color":"#111111","align":"right","baseline":"middle","dx":-13,"dy":19},"encoding":{"text":{"field":"t"}}},
{"data":{"name":"titles"},"transform":[{"calculate":"P[datum.p].x0+P[datum.p].xu*datum.u+P[datum.p].xv*datum.v","as":"x"},{"calculate":"P[datum.p].y0-59*datum.u-79*datum.v-P[datum.p].zs*datum.z","as":"y"}],"mark":{"type":"text","font":"Liberation Sans","color":"#111111","align":"center","baseline":"middle","dx":-24,"dy":-24},"encoding":{"text":{"field":"t"},"size":{"condition":{"test":"datum.p=='c'","value":27},"value":24}}}
]}
